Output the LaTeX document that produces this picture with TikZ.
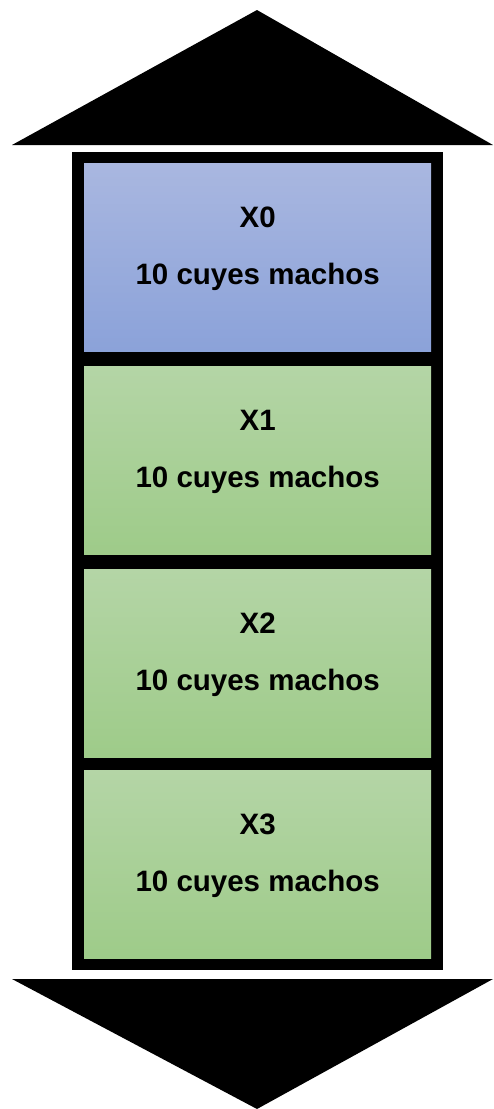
\documentclass[tikz,border=0pt]{standalone}
\usepackage{fontspec}
\setmainfont{Liberation Sans}
\begin{document}
\begin{tikzpicture}[x=1pt,y=-1pt,
  blockfill/.style={minimum width=347pt,minimum height=188pt,inner sep=0pt,
    draw=none,anchor=north west},
  bluefill/.style={blockfill,top color={rgb,255:red,169;green,183;blue,224},
    bottom color={rgb,255:red,139;green,162;blue,217}},
  greenfill/.style={blockfill,top color={rgb,255:red,180;green,213;blue,166},
    bottom color={rgb,255:red,158;green,203;blue,137}},
  lbl/.style={font=\bfseries\fontsize{29.5}{35}\selectfont,anchor=base,inner sep=0pt}]
\useasboundingbox (0,0) rectangle (493,1109);
% up and down arrow heads
\fill[black] (12,145) -- (257,10) -- (493,145) -- cycle;
\fill[black] (12,979) -- (257,1109) -- (493,979) -- cycle;
% black frame behind the stacked blocks
\fill[black] (72,152) rectangle (443,970);
% stacked blocks
\node[bluefill]  (b0) at (84,163) {};
\node[greenfill] (b1) at (84,366) {};
\node[greenfill] (b2) at (84,569) {};
\node[greenfill] (b3) at (84,770) {};
\foreach \i in {0,1,2,3}{
  \node[lbl] (t\i) at ([yshift=30pt]b\i.center) {X\i};
  \node[lbl] (c\i) at ([yshift=-27pt]b\i.center) {10 cuyes machos};
}
\end{tikzpicture}
\end{document}
